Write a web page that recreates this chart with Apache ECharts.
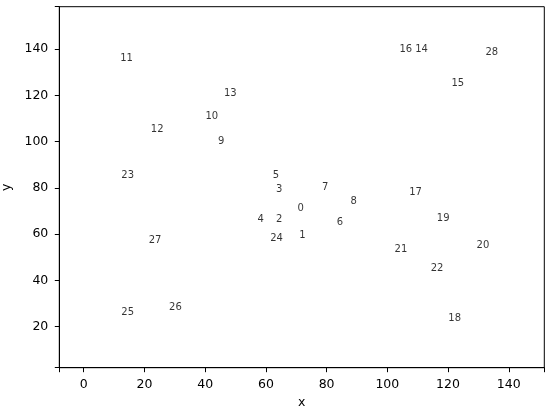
<!DOCTYPE html>
<html>
<head>
<meta charset="utf-8">
<script src="https://cdn.jsdelivr.net/npm/echarts@6/dist/echarts.min.js"></script>
<style>
  html, body { margin: 0; padding: 0; background: #fff; }
  #main { width: 550px; height: 414px; }
</style>
</head>
<body>
<div id="main"></div>
<script>
// 点的编号和坐标（从图上读出来的）
var names = ['0', '1', '2', '3', '4', '5', '6', '7', '8', '9', '10', '11', '12', '13', '14',
    '15', '16', '17', '18', '19', '20', '21', '22', '23', '24', '25', '26', '27', '28'];
var xs = [70.4, 71.0, 63.3, 63.3, 57.2, 62.3, 83.3, 78.5, 87.9, 44.2, 40.1, 12.0, 22.1, 46.2, 109.2,
    121.1, 104.0, 107.2, 120.1, 116.3, 129.4, 102.4, 114.3, 12.4, 61.4, 12.4, 28.1, 21.4, 132.3];
var ys = [69.9, 58.0, 65.0, 78.1, 65.0, 84.0, 64.0, 78.8, 72.9, 99.0, 109.7, 134.6, 103.9, 119.8, 138.5,
    123.8, 138.5, 76.7, 22.1, 65.7, 53.7, 52.0, 44.1, 84.0, 56.7, 25.0, 27.2, 56.1, 137.5];

// 刻度标签
var xTicks = [0, 20, 40, 60, 80, 100, 120, 140];
var yTicks = [20, 40, 60, 80, 100, 120, 140];

var font = 'DejaVu Sans';
var textColor = '#000';

var points = [];
for (var i = 0; i < names.length; i++) {
    points.push({ value: [xs[i], ys[i]], name: names[i] });
}

function axisCommon() {
    return {
        type: 'value',
        nameLocation: 'middle',
        splitNumber: 8,
        nameTextStyle: { fontFamily: font, fontSize: 12.5, color: textColor },
        splitLine: { show: false },
        axisLine: { show: true, onZero: false, lineStyle: { color: '#000', width: 1 } },
        axisTick: { show: true, inside: false, length: 4.5, lineStyle: { color: '#000', width: 1 } },
        axisLabel: { fontFamily: font, fontSize: 12.5, color: textColor, margin: 11 }
    };
}

var xAxis = axisCommon();
xAxis.name = 'x';
xAxis.nameGap = 29;
xAxis.min = -8.04;
xAxis.max = 151.7;
xAxis.axisLabel.customValues = xTicks;

var yAxis = axisCommon();
yAxis.name = 'y';
yAxis.nameGap = 38.5;
yAxis.min = 2.26;
yAxis.max = 158.4;
yAxis.axisLabel.customValues = yTicks;

var option = {
    animation: false,
    backgroundColor: '#fff',
    grid: {
        left: 59.3,
        right: 5.7,
        top: 6.7,
        bottom: 46.3,
        containLabel: false,
        outerBoundsMode: 'none',
        show: true,
        borderColor: '#000',
        borderWidth: 1,
        backgroundColor: 'transparent'
    },
    xAxis: xAxis,
    yAxis: yAxis,
    series: [{
        type: 'scatter',
        data: points,
        symbolSize: 1,
        itemStyle: { color: 'rgba(0,0,0,0)' },
        label: {
            show: true,
            position: [0.5, 0.5],
            offset: [0, 2],
            align: 'left',
            verticalAlign: 'bottom',
            formatter: function (p) { return p.name; },
            fontFamily: font,
            fontSize: 10,
            color: textColor
        }
    }]
};

var myChart = echarts.init(document.getElementById('main'));
myChart.setOption(option);
</script>
</body>
</html>
